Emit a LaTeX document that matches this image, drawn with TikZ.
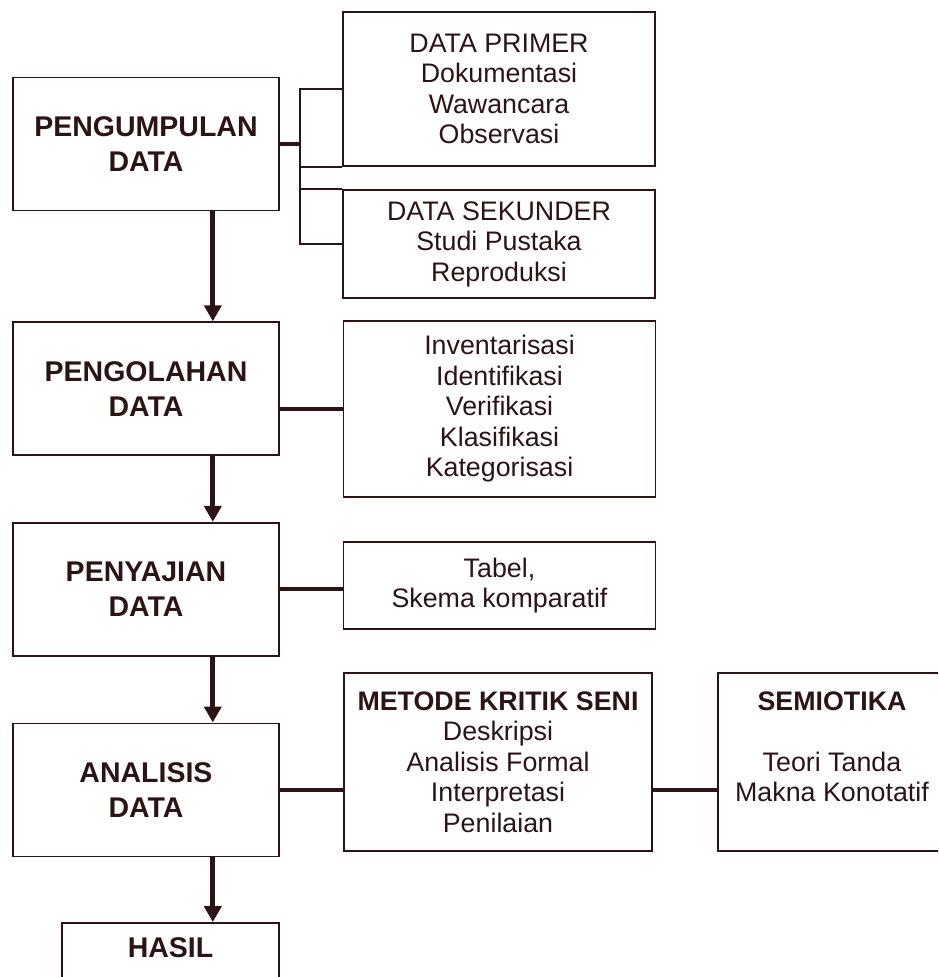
\documentclass[tikz,border=0pt]{standalone}
\usepackage{fontspec}
\setmainfont{Liberation Sans}
\usetikzlibrary{arrows.meta,positioning}
\definecolor{ink}{RGB}{44,20,20}

\begin{document}
\begin{tikzpicture}[x=1pt,y=1pt,
    stage/.style={draw=ink, line width=1.6pt, text=ink, align=center, minimum width=266pt, minimum height=133pt, font=\bfseries\fontsize{28.5}{35}\selectfont},
    info/.style={draw=ink, line width=1.6pt, text=ink, align=center, minimum width=312pt, font=\fontsize{26.8}{30.5}\selectfont},
    link/.style={draw=ink, line width=4pt},
    bracket/.style={draw=ink, line width=2.2pt},
    flow/.style={draw=ink, line width=5pt, -{Triangle[length=16pt,width=17pt]}}]
  \useasboundingbox (0,0) rectangle (938,-977);
  \clip (0,0) rectangle (938,-977);

  % left column
  \node[stage] (kumpul) at (146,-144) {PENGUMPULAN\\DATA};
  \node[stage, below=110pt of kumpul] (olah) {PENGOLAHAN\\DATA};
  \node[stage, below=66pt of olah] (saji) {PENYAJIAN\\DATA};
  \node[stage, below=66pt of saji] (analisis) {ANALISIS\\DATA};
  \node[stage, below=65pt of analisis.south east, anchor=north east, minimum width=217pt, minimum height=0pt, inner ysep=15pt, text depth=70pt] (hasil) {HASIL};

  % right column
  \node[info, minimum height=154pt] (primer) at (499,-89) {DATA PRIMER\\Dokumentasi\\Wawancara\\Observasi};
  \node[info, minimum height=108pt] (sekunder) at (499,-244) {DATA SEKUNDER\\Studi Pustaka\\Reproduksi};
  \node[info, minimum height=176pt] (tahap) at (499.5,-409) {Inventarisasi\\Identifikasi\\Verifikasi\\Klasifikasi\\Kategorisasi};
  \node[info, minimum height=87pt] (tabel) at (499.5,-585.5) {Tabel,\\Skema komparatif};
  \node[info, minimum width=308pt, minimum height=178pt] (kritik) at (498,-762) {\textbf{METODE KRITIK SENI}\\Deskripsi\\Analisis Formal\\Interpretasi\\Penilaian};
  \node[info, minimum width=228pt, minimum height=178pt] (semiotika) at (832,-762) {\textbf{SEMIOTIKA}\\\mbox{}\\Teori Tanda\\Makna Konotatif\\\mbox{}};

  % arrows
  \foreach \a/\b in {kumpul/olah, olah/saji, saji/analisis, analisis/hasil}
    \draw[flow] ([xshift=-67pt]\a.south east) -- ([xshift=-67pt]\b.north east);

  % connectors
  \coordinate (fork) at ([xshift=20pt]kumpul.east);
  \draw[link] (kumpul.east) -- (fork);
  \draw[bracket] (primer.west) -| (fork) |- (sekunder.west);
  \draw[bracket] (fork |- primer.south) -- (primer.south west);
  \draw[bracket] (fork |- sekunder.north) -- (sekunder.north west);
  \draw[link] (olah.east |- tahap.west) -- (tahap.west);
  \draw[link] (saji.east) -- (saji.east -| tabel.west);
  \draw[link] (analisis.east) -- (analisis.east -| kritik.west);
  \draw[link] (analisis.east -| kritik.east) -- (analisis.east -| semiotika.west);
\end{tikzpicture}
\end{document}
